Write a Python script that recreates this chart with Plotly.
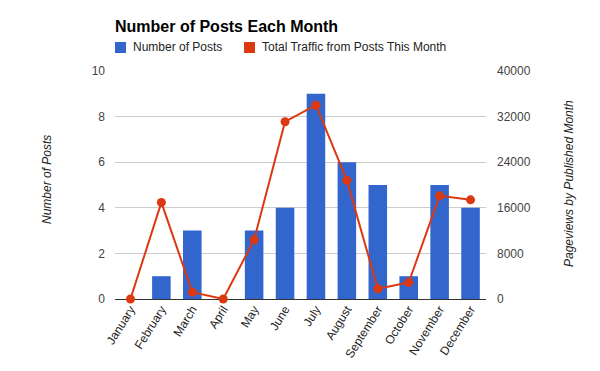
import plotly.graph_objects as go

months = ["January", "February", "March", "April", "May", "June", "July",
          "August", "September", "October", "November", "December"]
posts = [0, 1, 3, 0, 3, 4, 9, 6, 5, 1, 5, 4]
traffic = [0, 16950, 1200, 0, 10400, 31100, 34000, 20800, 1800, 2900, 18100, 17400]

left_ticks = [0, 2, 4, 6, 8, 10]
right_ticks = [0, 8000, 16000, 24000, 32000, 40000]
right_tick_text = ["0", "8000", "16000", "24000", "32000", "40000"]

BLUE = "#3366cc"
RED = "#dc3912"
FONT = "Arial, Liberation Sans, sans-serif"

W, H = 600, 371
L, R, T, B = 115, 486, 71, 299
pw, ph = R - L, B - T

fig = go.Figure()
fig.add_trace(go.Bar(x=months, y=posts, marker_color=BLUE, marker_line_width=0,
                     name="Number of Posts", showlegend=False, yaxis="y"))
fig.add_trace(go.Scatter(x=months, y=traffic, mode="lines+markers",
                         line=dict(color=RED, width=2), marker=dict(color=RED, size=9),
                         name="Total Traffic from Posts This Month", showlegend=False,
                         yaxis="y2", cliponaxis=False))

def px(x):
    return (x - L) / pw

def py(y):
    return (B - y) / ph

shapes = []
annotations = []
legend_items = [(115, BLUE, "Number of Posts"), (244, RED, "Total Traffic from Posts This Month")]
for x0, col, txt in legend_items:
    shapes.append(dict(type="rect", xref="paper", yref="paper",
                       x0=px(x0), x1=px(x0 + 11), y0=py(53), y1=py(42),
                       fillcolor=col, line_width=0))
    annotations.append(dict(xref="paper", yref="paper", x=px(x0 + 16), y=py(47.5),
                            text=txt, showarrow=False, xanchor="left", yanchor="middle",
                            font=dict(family=FONT, size=12, color="#222222")))

annotations.append(dict(xref="paper", yref="paper", x=px(47), y=py(180),
                        text="<i>Number of Posts</i>", textangle=-90, showarrow=False,
                        xanchor="center", yanchor="middle",
                        font=dict(family=FONT, size=12, color="#222222")))
annotations.append(dict(xref="paper", yref="paper", x=px(569), y=py(184),
                        text="<i>Pageviews by Published Month</i>", textangle=-90, showarrow=False,
                        xanchor="center", yanchor="middle",
                        font=dict(family=FONT, size=12, color="#222222")))

fig.update_layout(
    width=W, height=H,
    margin=dict(l=L, r=W - R, t=T, b=H - B, pad=0, autoexpand=False),
    paper_bgcolor="white", plot_bgcolor="white",
    barmode="overlay", bargap=0.4,
    showlegend=False,
    title=dict(text="<b>Number of Posts Each Month</b>", x=L / W, xanchor="left",
               xref="container", y=1 - 26 / H, yanchor="middle", yref="container",
               font=dict(family=FONT, size=16, color="#000000")),
    xaxis=dict(type="category", range=[-0.5, 11.5], tickangle=-58, showgrid=False,
               showline=False, ticks="", tickfont=dict(family=FONT, size=12, color="#222222"),
               zeroline=False, automargin=False),
    yaxis=dict(range=[0, 10], tickvals=left_ticks, showgrid=True, gridcolor="#cccccc",
               gridwidth=1, zeroline=True, zerolinecolor="#333333", zerolinewidth=1,
               showline=False, ticks="", ticklabelstandoff=9, automargin=False,
               tickfont=dict(family=FONT, size=12, color="#444444")),
    yaxis2=dict(range=[0, 40000], tickvals=right_ticks, ticktext=right_tick_text,
                overlaying="y", side="right",
                showgrid=False, zeroline=False, showline=False, ticks="",
                ticklabelstandoff=10, automargin=False,
                tickfont=dict(family=FONT, size=12, color="#444444")),
    shapes=shapes, annotations=annotations,
)

fig.write_html("out.html", config={"displayModeBar": False},
               post_script="document.body.style.margin='0';")
